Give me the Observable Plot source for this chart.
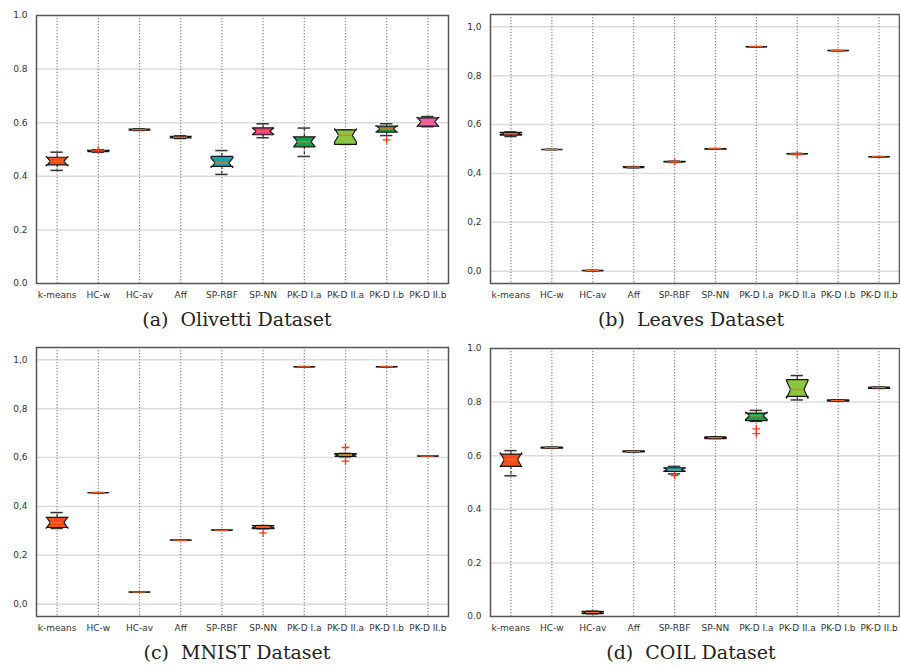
<!DOCTYPE html>
<html>
<head>
<meta charset="utf-8">
<script src="https://cdn.jsdelivr.net/npm/d3@7"></script>
<script src="https://cdn.jsdelivr.net/npm/@observablehq/plot@0.6"></script>
<style>
  html, body { margin: 0; padding: 0; background: #fff; }
  #grid { display: grid; grid-template-columns: 450px 450px; grid-template-rows: 333px 333px; width: 900px; }
  .cell { width: 450px; height: 333px; overflow: hidden; }
  .cap { width: 450px; height: 28px; line-height: 28px; font-family: "DejaVu Serif", serif; font-size: 19px; color: #222; text-align: center; white-space: pre; box-sizing: border-box; }
</style>
</head>
<body>
<div id="grid"></div>
<script>
const methods = ["k-means","HC-w","HC-av","Aff","SP-RBF","SP-NN","PK-D I.a","PK-D II.a","PK-D I.b","PK-D II.b"];
const fills = ["#f24f1d","#f05022","#e9522a","#e35a2e","#17a5a8","#ea3c7c","#13a24b","#8cc540","#13a24b","#e863b2"];
const yTicks = [0, 0.2, 0.4, 0.6, 0.8, 1.0];

// (a) Olivetti
const olivettiQ1    = [0.443, 0.492, 0.572, 0.543, 0.437, 0.555, 0.510, 0.519, 0.565, 0.587];
const olivettiMed   = [0.456, 0.495, 0.574, 0.546, 0.450, 0.568, 0.529, 0.553, 0.577, 0.603];
const olivettiQ3    = [0.471, 0.497, 0.576, 0.549, 0.474, 0.581, 0.547, 0.573, 0.587, 0.618];
const olivettiLo    = [0.422, 0.490, 0.571, 0.541, 0.407, 0.544, 0.474, 0.519, 0.552, 0.585];
const olivettiHi    = [0.490, 0.499, 0.577, 0.551, 0.496, 0.596, 0.580, 0.573, 0.596, 0.623];
const olivettiNotch = [0.018, 0.003, 0.002, 0.003, 0.018, 0.013, 0.020, 0.025, 0.013, 0.018];
const olivettiOut   = [[1, 0.498], [8, 0.536]];

// (b) Leaves
const leavesQ1    = [0.557, 0.497, 0.002, 0.424, 0.446, 0.499, 0.917, 0.479, 0.901, 0.467];
const leavesMed   = [0.563, 0.498, 0.003, 0.426, 0.447, 0.501, 0.918, 0.480, 0.902, 0.468];
const leavesQ3    = [0.568, 0.499, 0.004, 0.428, 0.449, 0.502, 0.919, 0.481, 0.903, 0.469];
const leavesLo    = [0.551, 0.497, 0.002, 0.423, 0.445, 0.499, 0.917, 0.478, 0.901, 0.467];
const leavesHi    = [0.570, 0.499, 0.004, 0.428, 0.450, 0.502, 0.919, 0.482, 0.903, 0.469];
const leavesNotch = [0.004, 0.001, 0.001, 0.002, 0.001, 0.001, 0.001, 0.001, 0.001, 0.001];
const leavesOut   = [[4, 0.448], [7, 0.477]];

// (c) MNIST
const mnistQ1    = [0.314, 0.455, 0.049, 0.261, 0.302, 0.309, 0.970, 0.605, 0.970, 0.605];
const mnistMed   = [0.334, 0.456, 0.050, 0.262, 0.303, 0.317, 0.971, 0.610, 0.971, 0.606];
const mnistQ3    = [0.355, 0.457, 0.051, 0.263, 0.304, 0.322, 0.972, 0.616, 0.972, 0.607];
const mnistLo    = [0.310, 0.455, 0.049, 0.261, 0.302, 0.309, 0.970, 0.603, 0.970, 0.605];
const mnistHi    = [0.375, 0.457, 0.051, 0.263, 0.304, 0.322, 0.972, 0.617, 0.972, 0.607];
const mnistNotch = [0.024, 0.001, 0.001, 0.001, 0.001, 0.004, 0.001, 0.005, 0.001, 0.001];
const mnistOut   = [[5, 0.292], [7, 0.641], [7, 0.585]];

// (d) COIL
const coilQ1    = [0.560, 0.628, 0.011, 0.614, 0.541, 0.664, 0.731, 0.821, 0.804, 0.851];
const coilMed   = [0.585, 0.630, 0.015, 0.616, 0.548, 0.667, 0.749, 0.847, 0.806, 0.854];
const coilQ3    = [0.606, 0.632, 0.019, 0.618, 0.555, 0.670, 0.759, 0.884, 0.808, 0.856];
const coilLo    = [0.525, 0.628, 0.010, 0.614, 0.532, 0.664, 0.728, 0.808, 0.804, 0.851];
const coilHi    = [0.619, 0.632, 0.020, 0.618, 0.560, 0.670, 0.769, 0.899, 0.808, 0.856];
const coilNotch = [0.027, 0.001, 0.003, 0.001, 0.006, 0.002, 0.014, 0.034, 0.001, 0.002];
const coilOut   = [[4, 0.526], [6, 0.700], [6, 0.682]];

const panels = [
  {q1: olivettiQ1, med: olivettiMed, q3: olivettiQ3, lo: olivettiLo, hi: olivettiHi, notch: olivettiNotch, out: olivettiOut,
   domain: [0, 1], dec: ".", ml: 36, mr: 2, mt: 15, caption: "(a)  Olivetti Dataset", shift: 24},
  {q1: leavesQ1, med: leavesMed, q3: leavesQ3, lo: leavesLo, hi: leavesHi, notch: leavesNotch, out: leavesOut,
   domain: [-0.05, 1.05], dec: ",", ml: 40, mr: 1, mt: 14, caption: "(b)  Leaves Dataset", shift: 32},
  {q1: mnistQ1, med: mnistMed, q3: mnistQ3, lo: mnistLo, hi: mnistHi, notch: mnistNotch, out: mnistOut,
   domain: [-0.05, 1.05], dec: ",", ml: 36, mr: 2, mt: 14, caption: "(c)  MNIST Dataset", shift: 24},
  {q1: coilQ1, med: coilMed, q3: coilQ3, lo: coilLo, hi: coilHi, notch: coilNotch, out: coilOut,
   domain: [0, 1], dec: ".", ml: 40, mr: 1, mt: 15, caption: "(d)  COIL Dataset", shift: 32}
];

const hw = 0.265, ind = 0.1, capw = 0.15;
const idx = methods.map((_, i) => i);

function makePanel(p) {
  const boxes = idx.map(i => ({i, q1: p.q1[i], med: p.med[i], q3: p.q3[i], lo: p.lo[i], hi: p.hi[i],
    nlo: p.med[i] - p.notch[i], nhi: p.med[i] + p.notch[i], fill: fills[i]}));
  const polys = boxes.map(b => {
    const L = b.i - hw, R = b.i + hw;
    return [[L,b.q1],[R,b.q1],[R,b.nlo],[R-ind,b.med],[R,b.nhi],[R,b.q3],[L,b.q3],[L,b.nhi],[L+ind,b.med],[L,b.nlo]]
      .map(([x,y]) => ({x, y}));
  });
  const fmt = v => v.toFixed(1).replace(".", p.dec);
  const gridTicks = yTicks.filter(v => v > p.domain[0] && v < p.domain[1]);
  const plot = Plot.plot({
    width: 450, height: 305,
    marginLeft: p.ml, marginRight: p.mr, marginTop: p.mt, marginBottom: 22,
    style: {fontFamily: "DejaVu Sans", fontSize: "9px", color: "#333", background: "#fff"},
    x: {type: "linear", domain: [-0.5, 9.5], ticks: idx, tickFormat: i => methods[i], tickSize: 0, tickPadding: 8, label: null},
    y: {domain: p.domain, ticks: yTicks, tickFormat: fmt, tickSize: 0, tickPadding: 9, label: null},
    marks: [
      Plot.ruleY(gridTicks, {stroke: "#dcdcdc", strokeWidth: 1.5}),
      Plot.ruleX(idx, {stroke: "#888", strokeWidth: 1.2, strokeDasharray: "1.2,1.8"}),
      Plot.ruleX(boxes, {x: "i", y1: "q3", y2: "hi", stroke: "#111", strokeWidth: 1, strokeDasharray: "3,2"}),
      Plot.ruleX(boxes, {x: "i", y1: "q1", y2: "lo", stroke: "#111", strokeWidth: 1, strokeDasharray: "3,2"}),
      Plot.ruleY(boxes, {y: "hi", x1: d => d.i - capw, x2: d => d.i + capw, stroke: "#333", strokeWidth: 1.5}),
      Plot.ruleY(boxes, {y: "lo", x1: d => d.i - capw, x2: d => d.i + capw, stroke: "#333", strokeWidth: 1.5}),
      ...polys.map((poly, i) => Plot.line(poly, {x: "x", y: "y", curve: "linear-closed",
        fill: fills[i], stroke: "#161616", strokeWidth: 1.2, strokeLinejoin: "miter"})),
      Plot.ruleY(boxes, {y: "med", x1: d => d.i - hw + ind, x2: d => d.i + hw - ind, stroke: "#ff6a2a", strokeWidth: 1.2}),
      Plot.dot(p.out, {x: d => d[0], y: d => d[1], symbol: "plus", r: 2.6, stroke: "#f03c18", strokeWidth: 1.3}),
      Plot.frame({stroke: "#555", strokeWidth: 1.5})
    ]
  });
  const cell = document.createElement("div");
  cell.className = "cell";
  cell.appendChild(plot);
  const cap = document.createElement("div");
  cap.className = "cap";
  cap.style.paddingLeft = p.shift + "px";
  cap.textContent = p.caption;
  cell.appendChild(cap);
  return cell;
}

const grid = document.getElementById("grid");
panels.forEach(p => grid.appendChild(makePanel(p)));
</script>
</body>
</html>
